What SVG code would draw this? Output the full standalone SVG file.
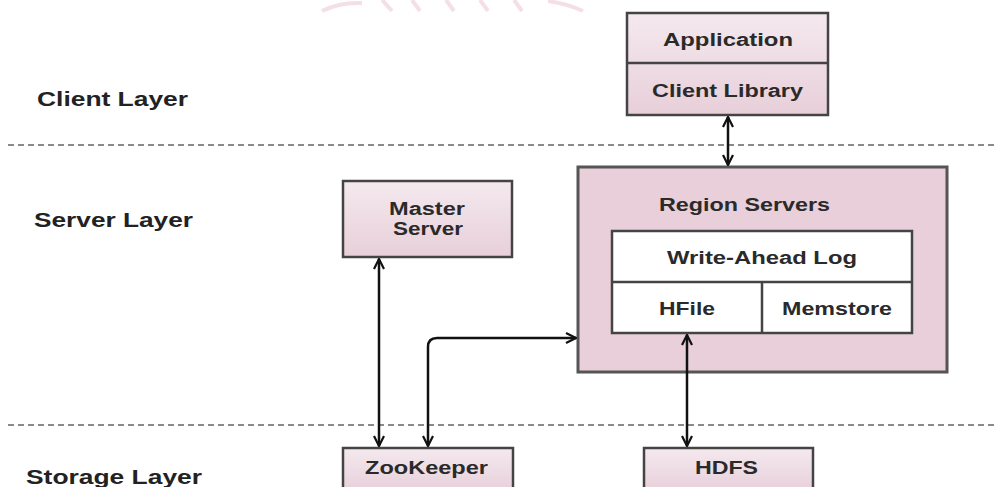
<svg xmlns="http://www.w3.org/2000/svg" width="995" height="487" viewBox="0 0 995 487">
  <defs>
    <linearGradient id="boxFill" x1="0" y1="0" x2="0" y2="1">
      <stop offset="0" stop-color="#f4e9ee"/>
      <stop offset="1" stop-color="#e8cfd9"/>
    </linearGradient>
    <marker id="head" viewBox="0 0 12 12" refX="11" refY="6" markerWidth="12" markerHeight="12" markerUnits="userSpaceOnUse" orient="auto-start-reverse">
      <path d="M1,1 L11,6 L1,11" fill="none" stroke="#111" stroke-width="2.2"/>
    </marker>
  </defs>
  <style>
    .box { fill: url(#boxFill); stroke: #444; stroke-width: 2.5; }
    .region { fill: #e8cfd9; stroke: #555; stroke-width: 3; }
    .cell { fill: #ffffff; stroke: #444; stroke-width: 2.5; }
    .sep { stroke: #444; stroke-width: 2.5; fill: none; }
    .t { font-family: "Liberation Sans", Arial, sans-serif; font-weight: bold; font-size: 18px; fill: #2a2a2a; }
    .layer { font-family: "Liberation Sans", Arial, sans-serif; font-weight: bold; font-size: 20px; fill: #222; }
    .dash { stroke: #8a8a8a; stroke-width: 2; stroke-dasharray: 6 4; fill: none; }
    .link { stroke: #111; stroke-width: 2.5; fill: none; marker-start: url(#head); marker-end: url(#head); }
    .mark { stroke: #f4e0e4; stroke-width: 4; fill: none; }
  </style>

  <rect width="995" height="487" fill="#ffffff"/>

  <!-- faint mark at the top edge -->
  <g id="topmark">
    <path class="mark" d="M322,11 Q340,2 362,3"/>
    <path class="mark" d="M382,0 L392,11"/>
    <path class="mark" d="M412,0 L420,11"/>
    <path class="mark" d="M446,0 L454,11"/>
    <path class="mark" d="M480,0 L488,11"/>
    <path class="mark" d="M514,0 L522,11"/>
    <path class="mark" d="M548,1 Q568,4 583,11"/>
  </g>

  <!-- layer separators -->
  <g id="separators">
    <line class="dash" x1="8" y1="145" x2="995" y2="145"/>
    <line class="dash" x1="8" y1="425" x2="995" y2="425"/>
  </g>

  <!-- layer titles -->
  <g id="layer-labels">
    <text class="layer" x="37" y="106" textLength="151" lengthAdjust="spacingAndGlyphs">Client Layer</text>
    <text class="layer" x="34" y="227" textLength="159" lengthAdjust="spacingAndGlyphs">Server Layer</text>
    <text class="layer" x="26" y="484" textLength="176" lengthAdjust="spacingAndGlyphs">Storage Layer</text>
  </g>

  <g id="client">
    <rect class="box" x="627" y="13" width="201" height="102"/>
    <line class="sep" x1="627" y1="63" x2="828" y2="63"/>
    <text class="t" x="663" y="46" textLength="130" lengthAdjust="spacingAndGlyphs">Application</text>
    <text class="t" x="652" y="97" textLength="151" lengthAdjust="spacingAndGlyphs">Client Library</text>
  </g>

  <g id="master">
    <rect class="box" x="343" y="181" width="169" height="76"/>
    <text class="t" x="389" y="215" textLength="76" lengthAdjust="spacingAndGlyphs">Master</text>
    <text class="t" x="393" y="235" textLength="70" lengthAdjust="spacingAndGlyphs">Server</text>
  </g>

  <g id="region-servers">
    <rect class="region" x="578" y="167" width="369" height="205"/>
    <text class="t" x="659" y="211" textLength="171" lengthAdjust="spacingAndGlyphs">Region Servers</text>
    <rect class="cell" x="612" y="231" width="300" height="102"/>
    <line class="sep" x1="612" y1="282" x2="912" y2="282"/>
    <line class="sep" x1="762" y1="282" x2="762" y2="333"/>
    <text class="t" x="667" y="264" textLength="190" lengthAdjust="spacingAndGlyphs">Write-Ahead Log</text>
    <text class="t" x="659" y="315" textLength="56" lengthAdjust="spacingAndGlyphs">HFile</text>
    <text class="t" x="782" y="315" textLength="110" lengthAdjust="spacingAndGlyphs">Memstore</text>
  </g>

  <g id="zookeeper">
    <rect class="box" x="343" y="448" width="170" height="44"/>
    <text class="t" x="365" y="474" textLength="123" lengthAdjust="spacingAndGlyphs">ZooKeeper</text>
  </g>

  <g id="hdfs">
    <rect class="box" x="644" y="448" width="169" height="44"/>
    <text class="t" x="695" y="474" textLength="63" lengthAdjust="spacingAndGlyphs">HDFS</text>
  </g>

  <g id="connectors">
    <path class="link" d="M728,117 L728,165"/>
    <path class="link" d="M379,259 L379,446"/>
    <path class="link" d="M428,446 L428,347 Q428,338 437,338 L576,338"/>
    <path class="link" d="M687,335 L687,446"/>
  </g>
</svg>
